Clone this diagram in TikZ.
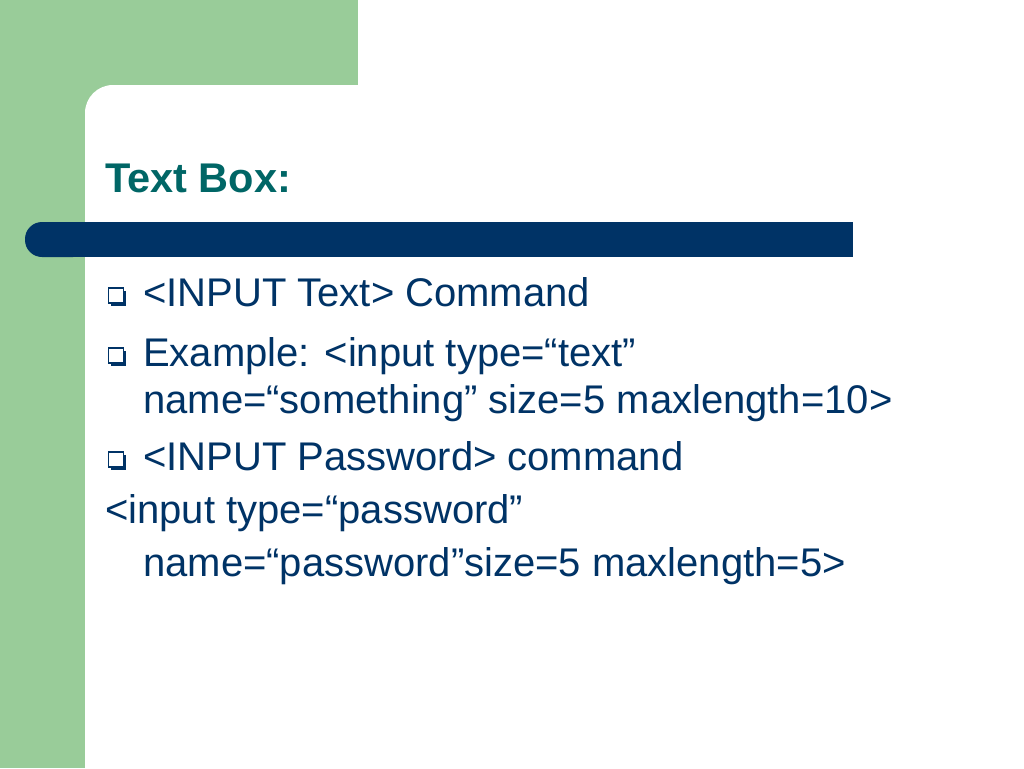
\documentclass[tikz,border=0pt]{standalone}
\usepackage{fontspec}
\setmainfont{Liberation Sans}
\usetikzlibrary{shadows}
\definecolor{sidegreen}{RGB}{153,204,153}
\definecolor{barblue}{RGB}{0,51,102}
\definecolor{titleteal}{RGB}{0,102,102}
\tikzset{title/.style={font=\fontsize{41.5}{50}\selectfont\bfseries,text=titleteal,anchor=base west,inner sep=0pt},
item/.style={font=\fontsize{40}{48}\selectfont,text=barblue,anchor=base west,inner sep=0pt},
bullet box/.style={draw=barblue,fill=white,line width=1.5pt,minimum size=15pt,inner sep=0pt,anchor=south west,
  drop shadow={shadow xshift=2.8pt,shadow yshift=-2.8pt,fill=barblue,opacity=1}}}

\begin{document}
\begin{tikzpicture}[x=1pt,y=-1pt]
\useasboundingbox (0,0) rectangle (1024,768);
\clip (0,0) rectangle (1024,768);

%% background
\fill [sidegreen] (0,0) rectangle (358,140);
\fill [sidegreen] (0,0) rectangle (85,768);
\fill [white,rounded corners=28pt] (85,85) rectangle (1100,850);

%% bar under the title
\fill [barblue,rounded corners=17pt] (25,222) rectangle (90,257);
\fill [barblue] (60,222) rectangle (853,257);

%% Coordinates of nodes.
\coordinate (t0) at (105,192);
\coordinate (q1) at (107.5,303.5);
\coordinate (q2) at (107.5,363.5);
\coordinate (q4) at (107.5,467.5);
\coordinate (l1) at (143,306);
\coordinate (l2) at (143,366);
\coordinate (l3) at (143,413);
\coordinate (l4) at (143,470);
\coordinate (l5) at (105,523);
\coordinate (l6) at (143,576);

%% title
\node [title] (title) at (t0) {Text Box:};

%% bullets
\node [bullet box] (b1) at (q1) {};
\node [bullet box] (b2) at (q2) {};
\node [bullet box] (b4) at (q4) {};

%% lines of text
\node [item] (i1) at (l1) {<INPUT Text> Command};
\node [item] (i2) at (l2) {Example: <input type=“text”};
\node [item] (i3) at (l3) {name=“something” size=5 maxlength=10>};
\node [item] (i4) at (l4) {<INPUT Password> command};
\node [item] (i5) at (l5) {<input type=“password”};
\node [item] (i6) at (l6) {name=“password”size=5 maxlength=5>};

\end{tikzpicture}
\end{document}
